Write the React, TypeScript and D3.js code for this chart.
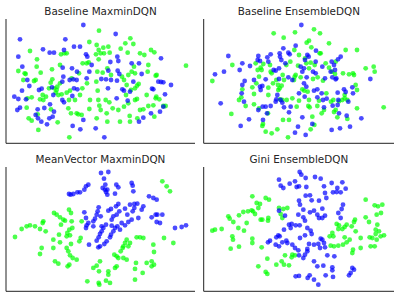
import React from "react";
import * as d3 from "d3";

type P = [number, number];

const titles = ["Baseline MaxminDQN", "Baseline EnsembleDQN", "MeanVector MaxminDQN", "Gini EnsembleDQN"];

const p1Blue: P[] = [
  [250,75],[347,102],[60,118],[196,118],[129,148],[149,158],[162,158],[192,150],[222,140],[240,140],[258,163],[262,170],
  [55,170],[352,170],[355,183],[331,186],[395,190],[417,190],[483,175],[67,200],[188,203],[216,205],[231,215],[268,215],
  [353,212],[358,222],[425,222],[187,245],[209,240],[220,238],[230,240],[304,237],[318,238],[333,240],[351,242],[82,240],
  [88,258],[66,272],[117,270],[125,266],[156,262],[222,265],[232,268],[324,265],[367,268],[372,272],[390,275],[475,245],
  [483,246],[490,247],[513,255],[460,268],[456,266],[495,283],[43,290],[55,297],[78,298],[160,285],[187,300],[217,288],
  [150,313],[192,307],[60,323],[52,330],[113,328],[133,324],[107,345],[162,335],[148,355],[158,350],[114,355],[124,365],
  [141,373],[250,360],[218,378],[241,388],[287,385],[313,412],[350,295],[383,302],[430,353],[417,365],[480,335],[453,340],
  [490,320],[260,235],[325,212],[190,230],[275,195],[400,245]
];
const p1Green: P[] = [
  [297,92],[391,115],[400,132],[376,130],[268,126],[290,135],[325,140],[310,143],[296,150],[302,160],[288,163],[312,160],
  [193,160],[200,160],[183,163],[90,153],[111,178],[110,200],[122,218],[55,213],[74,220],[77,222],[70,240],[102,243],
  [107,240],[156,208],[157,238],[180,195],[248,190],[260,190],[266,187],[296,178],[329,158],[362,146],[383,158],[420,160],
  [433,165],[453,150],[463,157],[445,195],[443,215],[470,225],[467,227],[402,200],[395,215],[385,225],[405,220],[322,205],
  [308,218],[292,215],[289,245],[333,225],[366,230],[372,240],[380,255],[411,257],[416,252],[405,265],[393,270],[558,197],
  [147,265],[163,265],[170,270],[138,290],[167,278],[175,285],[185,283],[200,278],[210,272],[152,248],[95,292],[82,295],
  [128,285],[120,298],[130,300],[207,300],[240,285],[293,272],[295,300],[317,300],[328,307],[298,317],[270,300],[378,285],
  [411,297],[405,300],[440,285],[469,290],[467,295],[478,298],[445,318],[460,316],[430,328],[385,310],[372,320],[355,330],
  [320,340],[338,325],[302,330],[268,327],[235,343],[205,325],[213,340],[153,328],[80,323],[86,355],[95,362],[113,343],
  [173,367],[115,390],[230,340],[245,345],[290,355],[322,365],[360,365],[389,348],[390,365],[412,355],[420,330],[463,350],
  [490,318],[497,318],[208,412],[215,235],[261,250],[237,220],[247,265],[225,300],[180,250],[172,260]
];

const p2Blue: P[] = [
  [307,75],[290,137],[253,145],[242,160],[215,163],[205,172],[178,168],[176,180],[183,183],[208,185],[243,170],[247,180],
  [268,158],[272,163],[259,190],[240,205],[230,212],[224,210],[88,168],[130,190],[153,198],[122,210],[75,215],[48,223],
  [137,243],[165,240],[183,260],[190,258],[185,270],[200,238],[240,237],[268,232],[280,240],[305,200],[315,205],[310,215],
  [318,180],[325,165],[329,170],[351,152],[350,185],[342,215],[350,220],[323,232],[370,200],[378,235],[398,185],[405,195],
  [395,215],[400,232],[410,238],[417,178],[425,170],[408,210],[412,235],[355,292],[368,280],[372,300],[383,296],[345,272],
  [355,268],[322,260],[315,250],[235,285],[232,298],[245,300],[250,308],[255,322],[275,320],[230,305],[215,318],[200,320],
  [191,320],[178,330],[204,340],[192,360],[150,358],[125,378],[65,310],[135,305],[128,280],[130,255],[270,337],[310,352],
  [297,380],[320,405],[288,398],[340,372],[398,390],[423,385],[453,380],[443,347],[487,355],[420,340],[462,280],[448,305],
  [460,262],[435,268],[440,276],[416,278],[416,315],[418,300],[514,237],[401,317],[375,322],[317,290],[300,280]
];
const p2Green: P[] = [
  [224,100],[254,113],[288,97],[345,88],[363,100],[323,128],[330,122],[390,130],[362,160],[286,150],[300,165],[297,197],
  [290,225],[285,240],[287,230],[305,232],[274,185],[262,195],[251,225],[255,240],[242,265],[248,257],[238,270],[213,195],
  [215,215],[218,220],[232,240],[208,263],[193,192],[185,203],[176,210],[188,210],[170,190],[100,195],[40,243],[130,268],
  [127,292],[120,300],[165,282],[208,285],[243,298],[250,300],[263,300],[280,295],[300,302],[293,320],[328,318],[332,322],
  [355,318],[340,350],[368,340],[375,330],[360,302],[396,305],[403,300],[420,304],[437,295],[430,300],[410,330],[405,336],
  [415,352],[445,357],[474,325],[470,255],[474,270],[462,220],[465,225],[450,223],[432,220],[408,222],[399,215],[380,190],
  [390,203],[410,185],[440,150],[474,150],[500,205],[524,200],[527,215],[554,322],[97,342],[140,318],[165,313],[180,325],
  [207,340],[270,360],[252,360],[235,388],[190,378],[192,372],[200,395],[218,400],[267,412],[335,388],[346,375],[326,275],
  [316,272],[310,268],[382,280],[180,230],[172,250],[160,262],[222,250],[237,255],[356,232],[372,242],[437,285],[445,300],
  [330,300],[318,175],[322,190],[335,188],[347,195],[330,205],[342,237],[365,160],[337,142]
];

const p3Blue: P[] = [
  [303,75],[325,72],[312,92],[316,110],[308,120],[315,125],[322,125],[318,132],[322,140],[349,110],[355,118],[345,137],
  [395,105],[398,113],[400,130],[265,110],[258,115],[253,125],[240,133],[232,133],[220,138],[212,140],[207,138],[447,145],
  [460,150],[470,155],[355,168],[348,175],[333,183],[325,188],[296,178],[293,190],[290,200],[285,212],[280,220],[253,193],
  [258,210],[265,225],[260,232],[258,240],[302,205],[340,205],[335,215],[350,200],[358,190],[375,182],[382,200],[403,168],
  [412,167],[398,190],[403,180],[430,175],[425,185],[467,200],[472,200],[487,200],[455,208],[470,222],[480,225],[525,240],
  [545,237],[558,232],[415,210],[395,215],[385,222],[375,232],[352,235],[345,240],[340,250],[333,260],[330,268],[320,280],
  [313,288],[335,233],[310,240],[305,250],[300,258],[296,268],[290,278],[267,290],[295,298],[300,295],[318,230],[305,235],
  [280,235],[360,245],[365,225],[390,170]
];
const p3Green: P[] = [
  [45,267],[65,243],[80,235],[90,232],[105,235],[120,243],[130,220],[128,225],[137,250],[162,195],[170,200],[180,208],
  [190,215],[195,218],[207,185],[213,195],[215,220],[217,240],[208,245],[202,255],[200,265],[210,262],[213,288],[205,310],
  [210,322],[218,330],[208,350],[203,355],[183,230],[177,260],[180,283],[160,275],[160,300],[125,300],[120,318],[165,340],
  [175,347],[242,270],[238,280],[487,100],[500,115],[510,130],[492,270],[520,285],[410,268],[420,268],[430,270],[460,290],
  [462,312],[455,340],[440,345],[462,350],[455,355],[428,375],[405,363],[408,345],[405,395],[380,275],[375,285],[370,295],
  [368,300],[362,310],[380,335],[370,330],[355,330],[350,325],[343,320],[350,355],[345,360],[325,370],[325,380],[300,340],
  [290,353],[297,370],[280,360],[262,400],[296,405],[298,410],[318,398],[330,405],[385,295],[390,285],[230,335],[245,220],
  [200,300]
];

const p4Blue: P[] = [
  [302,72],[307,80],[320,90],[348,87],[365,92],[240,95],[245,113],[253,120],[272,107],[288,100],[293,117],[300,115],
  [322,117],[398,105],[430,103],[415,120],[440,122],[375,115],[378,135],[402,133],[413,132],[425,133],[320,143],[333,142],
  [338,157],[360,158],[382,150],[432,170],[428,183],[418,195],[425,210],[300,158],[303,170],[313,185],[298,200],[313,208],
  [318,218],[333,193],[345,188],[355,200],[360,210],[370,182],[378,203],[370,210],[240,188],[258,203],[270,230],[275,240],
  [278,228],[290,232],[302,232],[325,240],[335,248],[338,258],[255,245],[238,262],[242,265],[232,268],[213,278],[207,283],
  [230,290],[240,295],[250,283],[265,285],[262,278],[280,290],[288,300],[298,307],[303,270],[318,262],[330,288],[325,303],
  [345,290],[358,288],[365,272],[370,275],[375,285],[363,300],[378,298],[300,322],[313,330],[318,320],[325,310],[345,340],
  [355,355],[373,353],[385,322],[406,325],[400,358],[400,367],[402,387],[380,382],[345,395],[358,410],[332,382],[326,390],
  [300,384],[290,385],[460,360],[465,365],[455,375],[450,382]
];
const p4Green: P[] = [
  [40,248],[48,245],[68,243],[100,265],[102,275],[95,302],[120,296],[118,240],[88,205],[92,212],[103,222],[120,202],
  [133,192],[147,190],[158,187],[162,190],[168,198],[173,165],[183,168],[178,180],[160,145],[200,150],[210,155],[240,180],
  [253,183],[265,180],[245,198],[250,210],[185,215],[190,215],[208,210],[207,218],[143,225],[135,248],[160,272],[160,285],
  [188,298],[205,332],[178,355],[200,372],[205,378],[232,350],[248,340],[255,350],[270,352],[278,328],[280,320],[288,322],
  [258,322],[500,155],[527,172],[537,175],[550,170],[546,195],[533,200],[500,208],[510,222],[535,230],[530,245],[540,250],
  [530,258],[520,270],[512,268],[533,275],[545,265],[555,262],[468,215],[465,222],[458,235],[443,230],[437,237],[430,243],
  [418,243],[420,232],[413,228],[400,255],[403,265],[392,265],[395,293],[405,295],[418,293],[432,290],[437,268],[452,275],
  [443,283],[462,305],[460,315],[485,270],[485,300],[515,295],[527,295],[470,250]
];

const panels = [
  { blue: p1Blue, green: p1Green, ox: 0, oy: 0 },
  { blue: p2Blue, green: p2Green, ox: 199, oy: 0 },
  { blue: p3Blue, green: p3Green, ox: 0, oy: 148 },
  { blue: p4Blue, green: p4Green, ox: 199, oy: 148 },
];

const BLUE = "rgba(0,0,255,0.7)";
const GREEN = "rgba(0,255,0,0.7)";

function Panel({ idx }: { idx: number }) {
  const p = panels[idx];
  const left = idx % 2 === 0 ? 6 : 4.7;
  const x = d3.scaleLinear().domain([18, 585]).range([p.ox + 6, p.ox + 195]);
  const y = d3.scaleLinear().domain([57, 430]).range([p.oy + 19, p.oy + 143.3]);
  const spineX = p.ox + left;
  const x0 = x(18), x1 = x(585), y0 = y(57), y1 = y(430);
  return (
    <g>
      <text x={(spineX + x1) / 2} y={p.oy + 14.5} textAnchor="middle" fontFamily="DejaVu Sans" fontSize={10.4} fill="#262626">
        {titles[idx]}
      </text>
      {p.green.map((d, i) => (
        <circle key={"g" + i} cx={x(d[0])} cy={y(d[1])} r={2.4} fill={GREEN} />
      ))}
      {p.blue.map((d, i) => (
        <circle key={"b" + i} cx={x(d[0])} cy={y(d[1])} r={2.4} fill={BLUE} />
      ))}
      <line x1={spineX} x2={spineX} y1={y0} y2={y1} stroke="#222" strokeWidth={1} />
      <line x1={spineX} x2={x1} y1={y1} y2={y1} stroke="#222" strokeWidth={1} />
    </g>
  );
}

export default function App() {
  return (
    <svg width={399} height={297} style={{ position: "absolute", left: 0, top: 0, background: "#fff" }}>
      {[0, 1, 2, 3].map((i) => (
        <Panel key={i} idx={i} />
      ))}
    </svg>
  );
}
